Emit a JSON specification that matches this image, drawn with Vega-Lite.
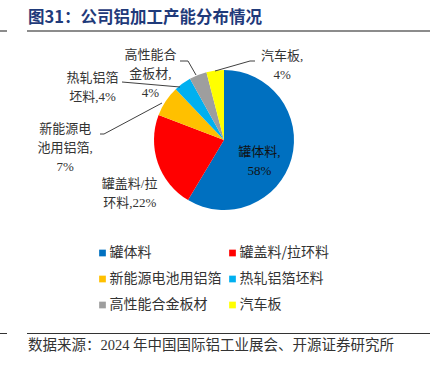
{
  "$schema": "https://vega.github.io/schema/vega-lite/v6.json",
  "width": 430,
  "height": 368,
  "autosize": {"type": "none"},
  "padding": 0,
  "background": "white",
  "config": {"view": {"stroke": null}},
  "title": {
    "text": "图31：公司铝加工产能分布情况",
    "anchor": "start",
    "orient": "top",
    "frame": "group",
    "offset": 0,
    "dx": 28,
    "dy": 26,
    "font": "Noto Sans CJK SC",
    "fontSize": 16.5,
    "fontWeight": "bold",
    "color": "#1f3a7a"
  },
  "data": {
    "values": [
      {"类别": "罐体料", "占比": 58, "序": 1, "标签": "罐体料,\n58%"},
      {"类别": "罐盖料/拉环料", "占比": 22, "序": 2, "标签": "罐盖料/拉\n环料,22%"},
      {"类别": "新能源电池用铝箔", "占比": 7, "序": 3, "标签": "新能源电\n池用铝箔,\n7%"},
      {"类别": "热轧铝箔坯料", "占比": 4, "序": 4, "标签": "热轧铝箔\n坯料,4%"},
      {"类别": "高性能合金板材", "占比": 4, "序": 5, "标签": "高性能合\n金板材,\n4%"},
      {"类别": "汽车板", "占比": 4, "序": 6, "标签": "汽车板,\n4%"}
    ]
  },
  "layer": [
    {
      "mark": {"type": "arc", "outerRadius": 70, "x": 224, "y": 140},
      "encoding": {
        "theta": {"field": "占比", "type": "quantitative", "stack": true},
        "order": {"field": "序", "type": "quantitative"},
        "color": {
          "field": "类别",
          "type": "nominal",
          "scale": {
            "domain": ["罐体料", "罐盖料/拉环料", "新能源电池用铝箔", "热轧铝箔坯料", "高性能合金板材", "汽车板"],
            "range": ["#0070c0", "#ff0000", "#ffc000", "#00b0f0", "#9e9e9e", "#ffff00"]
          },
          "sort": null,
          "legend": {
            "title": null,
            "orient": "none",
            "legendX": 95.5,
            "legendY": 246,
            "direction": "horizontal",
            "columns": 2,
            "columnPadding": 4,
            "rowPadding": 12,
            "padding": 0,
            "symbolType": "square",
            "symbolSize": 45,
            "symbolStrokeWidth": 0,
            "labelOffset": 0,
            "labelFont": "Noto Sans CJK SC",
            "labelFontSize": 14,
            "labelColor": "#333333",
            "labelLimit": 300
          }
        }
      }
    },
    {
      "mark": {"type": "text", "x": 224, "y": 140, "radius": 45, "dx": -8, "dy": 0, "lineBreak": "\n", "lineHeight": 19, "font": "Liberation Serif, Noto Sans CJK SC", "fontSize": 13, "color": "#111111", "align": "center", "baseline": "middle"},
      "encoding": {
        "theta": {"field": "占比", "type": "quantitative", "stack": true},
        "order": {"field": "序", "type": "quantitative"},
        "text": {"condition": {"test": "datum['序'] == 1", "field": "标签"}, "value": ""}
      }
    },
    {
      "mark": {"type": "text", "x": 224, "y": 140, "radius": 85, "dx": -14, "dy": 16, "lineBreak": "\n", "lineHeight": 19, "font": "Liberation Serif, Noto Sans CJK SC", "fontSize": 13, "color": "#333333", "align": "center", "baseline": "middle"},
      "encoding": {
        "theta": {"field": "占比", "type": "quantitative", "stack": true},
        "order": {"field": "序", "type": "quantitative"},
        "text": {"condition": {"test": "datum['序'] == 2", "field": "标签"}, "value": ""}
      }
    },
    {
      "mark": {"type": "text", "x": 224, "y": 140, "radius": 85, "dx": -88, "dy": 36, "lineBreak": "\n", "lineHeight": 19, "font": "Liberation Serif, Noto Sans CJK SC", "fontSize": 13, "color": "#333333", "align": "center", "baseline": "middle"},
      "encoding": {
        "theta": {"field": "占比", "type": "quantitative", "stack": true},
        "order": {"field": "序", "type": "quantitative"},
        "text": {"condition": {"test": "datum['序'] == 3", "field": "标签"}, "value": ""}
      }
    },
    {
      "mark": {"type": "text", "x": 224, "y": 140, "radius": 85, "dx": -81, "dy": 6, "lineBreak": "\n", "lineHeight": 19, "font": "Liberation Serif, Noto Sans CJK SC", "fontSize": 13, "color": "#333333", "align": "center", "baseline": "middle"},
      "encoding": {
        "theta": {"field": "占比", "type": "quantitative", "stack": true},
        "order": {"field": "序", "type": "quantitative"},
        "text": {"condition": {"test": "datum['序'] == 4", "field": "标签"}, "value": ""}
      }
    },
    {
      "mark": {"type": "text", "x": 224, "y": 140, "radius": 85, "dx": -42, "dy": -6, "lineBreak": "\n", "lineHeight": 19, "font": "Liberation Serif, Noto Sans CJK SC", "fontSize": 13, "color": "#333333", "align": "center", "baseline": "middle"},
      "encoding": {
        "theta": {"field": "占比", "type": "quantitative", "stack": true},
        "order": {"field": "序", "type": "quantitative"},
        "text": {"condition": {"test": "datum['序'] == 5", "field": "标签"}, "value": ""}
      }
    },
    {
      "mark": {"type": "text", "x": 224, "y": 140, "radius": 85, "dx": 69, "dy": 0, "lineBreak": "\n", "lineHeight": 19, "font": "Liberation Serif, Noto Sans CJK SC", "fontSize": 13, "color": "#333333", "align": "center", "baseline": "middle"},
      "encoding": {
        "theta": {"field": "占比", "type": "quantitative", "stack": true},
        "order": {"field": "序", "type": "quantitative"},
        "text": {"condition": {"test": "datum['序'] == 6", "field": "标签"}, "value": ""}
      }
    },
    {
      "data": {"values": [
        {"x": 255, "y": 61, "x2": 250, "y2": 61},
        {"x": 250, "y": 61, "x2": 215, "y2": 71},
        {"x": 180, "y": 61, "x2": 188, "y2": 61},
        {"x": 188, "y": 61, "x2": 196, "y2": 75},
        {"x": 122, "y": 82, "x2": 180, "y2": 87},
        {"x": 100, "y": 134, "x2": 104, "y2": 134},
        {"x": 104, "y": 134, "x2": 162, "y2": 103}
      ]},
      "mark": {"type": "rule", "stroke": "#404040", "strokeWidth": 1},
      "encoding": {
        "x": {"field": "x", "type": "quantitative", "scale": {"domain": [0, 430], "range": [0, 430]}, "axis": null},
        "x2": {"field": "x2"},
        "y": {"field": "y", "type": "quantitative", "scale": {"domain": [0, 368], "range": [0, 368]}, "axis": null},
        "y2": {"field": "y2"}
      }
    },
    {
      "data": {"values": [{}]},
      "mark": {"type": "rule", "stroke": "#8c8c8c", "strokeWidth": 2},
      "encoding": {"x": {"value": 27}, "x2": {"value": 430}, "y": {"value": 31}}
    },
    {
      "data": {"values": [{}]},
      "mark": {"type": "rule", "stroke": "#8c8c8c", "strokeWidth": 2},
      "encoding": {"x": {"value": 0}, "x2": {"value": 7}, "y": {"value": 31}}
    },
    {
      "data": {"values": [{}]},
      "mark": {"type": "rule", "stroke": "#333333", "strokeWidth": 1},
      "encoding": {"x": {"value": 27}, "x2": {"value": 430}, "y": {"value": 333.5}}
    },
    {
      "data": {"values": [{}]},
      "mark": {"type": "rule", "stroke": "#333333", "strokeWidth": 1},
      "encoding": {"x": {"value": 0}, "x2": {"value": 7}, "y": {"value": 333.5}}
    },
    {
      "data": {"values": [{"t": "数据来源：2024 年中国国际铝工业展会、开源证券研究所"}]},
      "mark": {"type": "text", "align": "left", "baseline": "middle", "font": "Liberation Serif, Noto Sans CJK SC", "fontSize": 14.5, "color": "#333333"},
      "encoding": {"text": {"field": "t"}, "x": {"value": 28}, "y": {"value": 346}}
    }
  ]
}
